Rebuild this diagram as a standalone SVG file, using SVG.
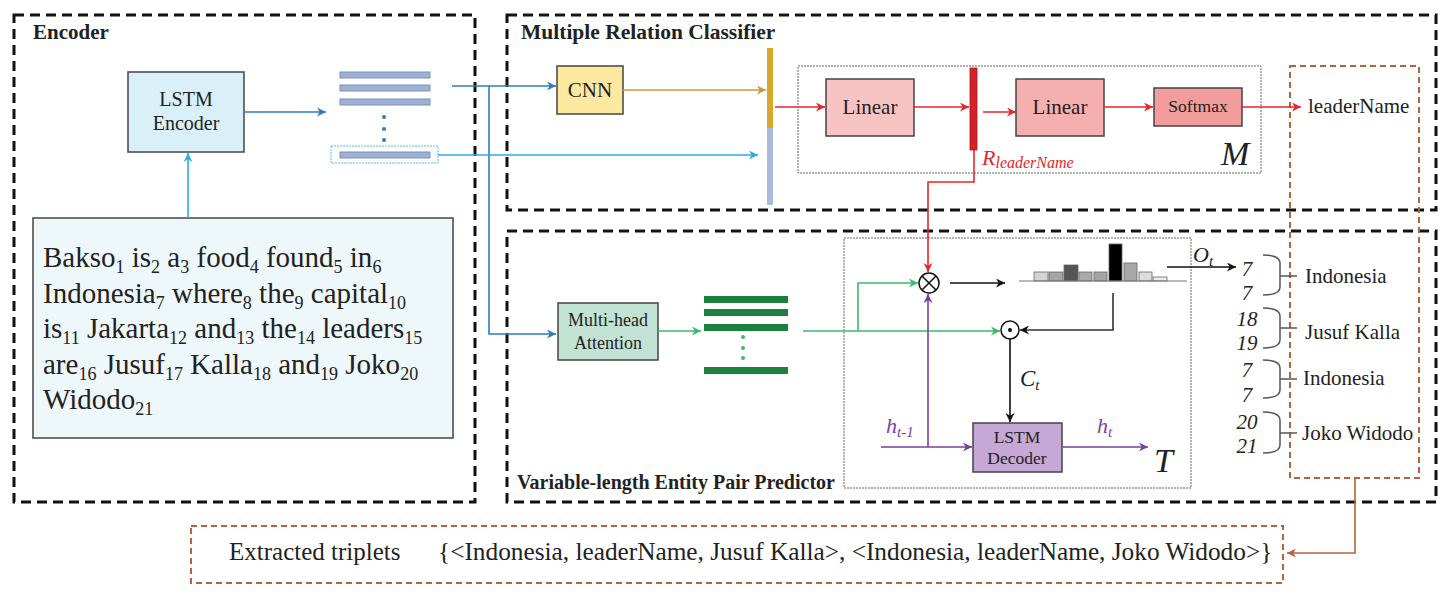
<svg xmlns="http://www.w3.org/2000/svg" width="1449" height="592" viewBox="0 0 1449 592">
<style>
text{font-family:"Liberation Serif","Times New Roman",serif;fill:#222;}
.title{font-weight:bold;font-size:20px;}
.region{fill:none;stroke:#111;stroke-width:3;stroke-dasharray:10 6;}
.inner{fill:none;stroke:#666;stroke-width:1;stroke-dasharray:2 1;}
.brown{fill:none;stroke:#b4643c;stroke-width:2;stroke-dasharray:6 4;}
.box{stroke:#444;stroke-width:1.5;}
.it{font-style:italic;}
.c{text-anchor:middle;}
.conn{fill:none;stroke-width:1.6;}
.bar{fill:#9cb0d8;stroke:#8090b0;stroke-width:1;}
.gbar{fill:#1b8040;}
.brace{fill:none;stroke:#555;stroke-width:1.5;}
.hb{stroke:#666;stroke-width:0.8;}
</style>
<defs>
<marker id="aBlue" viewBox="0 0 10 10" refX="10" refY="5" markerWidth="11" markerHeight="9" markerUnits="userSpaceOnUse" orient="auto"><path d="M0,0 L10,5 L0,10 L3,5 z" fill="#2e7cc0"/></marker>
<marker id="aLBlue" viewBox="0 0 10 10" refX="10" refY="5" markerWidth="11" markerHeight="9" markerUnits="userSpaceOnUse" orient="auto"><path d="M0,0 L10,5 L0,10 L3,5 z" fill="#2aaee6"/></marker>
<marker id="aGold" viewBox="0 0 10 10" refX="10" refY="5" markerWidth="11" markerHeight="9" markerUnits="userSpaceOnUse" orient="auto"><path d="M0,0 L10,5 L0,10 L3,5 z" fill="#c8993a"/></marker>
<marker id="aRed" viewBox="0 0 10 10" refX="10" refY="5" markerWidth="11" markerHeight="9" markerUnits="userSpaceOnUse" orient="auto"><path d="M0,0 L10,5 L0,10 L3,5 z" fill="#e8262d"/></marker>
<marker id="aGreen" viewBox="0 0 10 10" refX="10" refY="5" markerWidth="11" markerHeight="9" markerUnits="userSpaceOnUse" orient="auto"><path d="M0,0 L10,5 L0,10 L3,5 z" fill="#3cba6c"/></marker>
<marker id="aBlack" viewBox="0 0 10 10" refX="10" refY="5" markerWidth="11" markerHeight="9" markerUnits="userSpaceOnUse" orient="auto"><path d="M0,0 L10,5 L0,10 L3,5 z" fill="#111"/></marker>
<marker id="aPurple" viewBox="0 0 10 10" refX="10" refY="5" markerWidth="11" markerHeight="9" markerUnits="userSpaceOnUse" orient="auto"><path d="M0,0 L10,5 L0,10 L3,5 z" fill="#7b3fa0"/></marker>
<marker id="aBrown" viewBox="0 0 10 10" refX="10" refY="5" markerWidth="11" markerHeight="9" markerUnits="userSpaceOnUse" orient="auto"><path d="M0,0 L10,5 L0,10 L3,5 z" fill="#b4643c"/></marker>
</defs>
<rect width="1449" height="592" fill="#fff"/>

<!-- regions -->
<g id="encoder-region">
<rect class="region" x="14" y="15" width="461" height="487"/>
<text class="title" x="33" y="39" style="font-size:21px">Encoder</text>
</g>
<g id="mrc-region">
<rect class="region" x="507" y="15" width="929" height="195"/>
<text class="title" x="521" y="39" style="font-size:21.5px">Multiple Relation Classifier</text>
</g>
<g id="vlepp-region">
<rect class="region" x="507" y="231" width="929" height="271"/>
<text class="title" x="517" y="489">Variable-length Entity Pair Predictor</text>
</g>

<!-- encoder nodes -->
<g id="lstm-encoder">
<rect class="box" x="128" y="72" width="116" height="80" fill="#daf0f8"/>
<text class="c" x="186" y="106" font-size="20">LSTM</text>
<text class="c" x="186" y="130" font-size="20">Encoder</text>
</g>
<g id="input-sentence">
<rect class="box" x="33" y="218" width="420" height="220" fill="#eef7fa"/>
<text x="43" y="267" font-size="29">Bakso<tspan font-size="18" dy="6">1</tspan><tspan dy="-6"> is</tspan><tspan font-size="18" dy="6">2</tspan><tspan dy="-6"> a</tspan><tspan font-size="18" dy="6">3</tspan><tspan dy="-6"> food</tspan><tspan font-size="18" dy="6">4</tspan><tspan dy="-6"> found</tspan><tspan font-size="18" dy="6">5</tspan><tspan dy="-6"> in</tspan><tspan font-size="18" dy="6">6</tspan></text>
<text x="43" y="302.5" font-size="29">Indonesia<tspan font-size="18" dy="6">7</tspan><tspan dy="-6"> where</tspan><tspan font-size="18" dy="6">8</tspan><tspan dy="-6"> the</tspan><tspan font-size="18" dy="6">9</tspan><tspan dy="-6"> capital</tspan><tspan font-size="18" dy="6">10</tspan></text>
<text x="43" y="338" font-size="29">is<tspan font-size="18" dy="6">11</tspan><tspan dy="-6"> Jakarta</tspan><tspan font-size="18" dy="6">12</tspan><tspan dy="-6"> and</tspan><tspan font-size="18" dy="6">13</tspan><tspan dy="-6"> the</tspan><tspan font-size="18" dy="6">14</tspan><tspan dy="-6"> leaders</tspan><tspan font-size="18" dy="6">15</tspan></text>
<text x="43" y="373.5" font-size="29">are<tspan font-size="18" dy="6">16</tspan><tspan dy="-6"> Jusuf</tspan><tspan font-size="18" dy="6">17</tspan><tspan dy="-6"> Kalla</tspan><tspan font-size="18" dy="6">18</tspan><tspan dy="-6"> and</tspan><tspan font-size="18" dy="6">19</tspan><tspan dy="-6"> Joko</tspan><tspan font-size="18" dy="6">20</tspan></text>
<text x="43" y="409" font-size="29">Widodo<tspan font-size="18" dy="6">21</tspan></text>
</g>
<g id="encoder-states">
<rect class="bar" x="340" y="72" width="90" height="6"/>
<rect class="bar" x="340" y="85" width="90" height="6"/>
<rect class="bar" x="340" y="99" width="90" height="6"/>
<circle cx="384" cy="117" r="2" fill="#2e7cc0"/>
<circle cx="384" cy="129" r="2" fill="#2e7cc0"/>
<circle cx="384" cy="140" r="2" fill="#2e7cc0"/>
<rect x="331" y="146" width="107" height="17" fill="none" stroke="#4fc0ea" stroke-width="1" stroke-dasharray="2 1"/>
<rect class="bar" x="340" y="152" width="90" height="6"/>
</g>

<!-- MRC nodes -->
<g id="cnn">
<rect class="box" x="557" y="66" width="66" height="48" fill="#fde8a0"/>
<text class="c" x="590" y="97" font-size="21">CNN</text>
</g>
<g id="concat-vector">
<rect x="767" y="48" width="6" height="80" fill="#d6a92a"/>
<rect x="767" y="128" width="6" height="77" fill="#a8bcd9"/>
</g>
<g id="M-block">
<rect class="inner" x="798" y="66" width="463" height="107"/>
<text class="it" x="1221" y="165" font-size="34">M</text>
</g>
<g id="linear1">
<rect class="box" x="826" y="79" width="88" height="57" fill="#f8c3c3"/>
<text class="c" x="870" y="114" font-size="21">Linear</text>
</g>
<g id="r-leadername">
<rect x="970" y="68" width="7" height="82" fill="#d42027" stroke="#a81a20" stroke-width="0.8"/>
<text class="it" x="982" y="165" font-size="22" style="fill:#e8262d">R<tspan font-size="16" dy="3">leaderName</tspan></text>
</g>
<g id="linear2">
<rect class="box" x="1016" y="79" width="88" height="57" fill="#f5afaf"/>
<text class="c" x="1060" y="114" font-size="21">Linear</text>
</g>
<g id="softmax">
<rect class="box" x="1154" y="88" width="88" height="38" fill="#f29c9c"/>
<text class="c" x="1198" y="112" font-size="17.5">Softmax</text>
</g>
<g id="output-box">
<rect class="brown" x="1290" y="66" width="129" height="412"/>
<text x="1308" y="113" font-size="21">leaderName</text>
<text x="1305" y="283" font-size="21">Indonesia</text>
<text x="1305" y="339" font-size="21">Jusuf Kalla</text>
<text x="1303" y="385" font-size="21">Indonesia</text>
<text x="1302" y="440" font-size="21">Joko Widodo</text>
</g>

<!-- VLEPP nodes -->
<g id="multi-head-attention">
<rect class="box" x="558" y="303" width="100" height="57" fill="#c2e3d3"/>
<text class="c" x="608" y="326" font-size="18">Multi-head</text>
<text class="c" x="608" y="349" font-size="18">Attention</text>
</g>
<g id="attention-states">
<rect class="gbar" x="704" y="296" width="84" height="7"/>
<rect class="gbar" x="704" y="309" width="84" height="7"/>
<rect class="gbar" x="704" y="324" width="84" height="7"/>
<circle cx="743" cy="337" r="2" fill="#3cba6c"/>
<circle cx="743" cy="348" r="2" fill="#3cba6c"/>
<circle cx="743" cy="358" r="2" fill="#3cba6c"/>
<rect class="gbar" x="704" y="367" width="84" height="7"/>
</g>
<g id="T-block">
<rect class="inner" x="844" y="238" width="347" height="250"/>
<text class="it" x="1154" y="472" font-size="34">T</text>
</g>
<g id="otimes">
<circle cx="929" cy="283" r="10" fill="#fff" stroke="#111" stroke-width="1.5"/>
<path d="M922,276 L936,290 M936,276 L922,290" stroke="#111" stroke-width="1.5"/>
</g>
<g id="odot">
<circle cx="1010" cy="330" r="9" fill="#fff" stroke="#111" stroke-width="1.5"/>
<circle cx="1010" cy="330" r="2" fill="#111"/>
</g>
<g id="histogram">
<rect class="hb" x="1034" y="272" width="14" height="9" fill="#d4d4d4"/>
<rect class="hb" x="1049" y="272" width="14" height="9" fill="#a4a4a4"/>
<rect class="hb" x="1064" y="265" width="14" height="16" fill="#555"/>
<rect class="hb" x="1079" y="272" width="13" height="9" fill="#aaa"/>
<rect class="hb" x="1094" y="272" width="13" height="9" fill="#a4a4a4"/>
<rect class="hb" x="1109" y="244" width="13" height="37" fill="#000"/>
<rect class="hb" x="1124" y="263" width="13" height="18" fill="#a8a8a8"/>
<rect class="hb" x="1139" y="272" width="13" height="9" fill="#dcdcdc"/>
<rect class="hb" x="1153" y="277" width="14" height="4" fill="#ececec"/>
<line x1="1019" y1="281" x2="1187" y2="281" stroke="#777" stroke-width="1.2"/>
</g>
<g id="lstm-decoder">
<rect class="box" x="973" y="423" width="89" height="49" fill="#c6a7d6"/>
<text class="c" x="1017" y="443" font-size="17.5">LSTM</text>
<text class="c" x="1017" y="464" font-size="17.5">Decoder</text>
</g>
<g id="pointer-outputs">
<text class="it c" x="1247" y="276" font-size="21">7</text>
<text class="it c" x="1247" y="300" font-size="21">7</text>
<text class="it c" x="1247" y="326" font-size="21">18</text>
<text class="it c" x="1247" y="350" font-size="21">19</text>
<text class="it c" x="1247" y="377" font-size="21">7</text>
<text class="it c" x="1247" y="402" font-size="21">7</text>
<text class="it c" x="1247" y="429" font-size="21">20</text>
<text class="it c" x="1247" y="453" font-size="21">21</text>
<path class="brace" d="M1263,255 Q1280,255 1280,263 V287 Q1280,295 1263,295 M1280,276 H1297"/>
<path class="brace" d="M1263,308 Q1280,308 1280,316 V340 Q1280,348 1263,348 M1280,328 H1297"/>
<path class="brace" d="M1263,360 Q1280,360 1280,368 V390 Q1280,398 1263,398 M1280,379 H1297"/>
<path class="brace" d="M1263,412 Q1280,412 1280,420 V445 Q1280,453 1263,453 M1280,433 H1297"/>
</g>

<!-- result -->
<g id="extracted-triplets">
<rect class="brown" x="191" y="526" width="1092" height="57"/>
<text x="229" y="560" font-size="25">Extracted triplets</text>
<text x="438" y="560" font-size="25.3">{&lt;Indonesia, leaderName, Jusuf Kalla&gt;, &lt;Indonesia, leaderName, Joko Widodo&gt;}</text>
</g>

<!-- connectors -->
<g id="connectors">
<path class="conn" d="M244,112 H326" stroke="#2e7cc0" marker-end="url(#aBlue)"/>
<path class="conn" d="M188,218 V153" stroke="#2aaee6" marker-end="url(#aLBlue)"/>
<path class="conn" d="M452,86 H556" stroke="#2e7cc0" marker-end="url(#aBlue)"/>
<path class="conn" d="M489,86 V334 H556" stroke="#2e7cc0" marker-end="url(#aBlue)"/>
<path class="conn" d="M438,155 H758" stroke="#2aaee6" marker-end="url(#aLBlue)"/>
<path class="conn" d="M623,90 H766" stroke="#c8993a" marker-end="url(#aGold)"/>
<path class="conn" d="M775,107 H825" stroke="#e8262d" marker-end="url(#aRed)"/>
<path class="conn" d="M914,107 H969" stroke="#e8262d" marker-end="url(#aRed)"/>
<path class="conn" d="M983,112 H1016" stroke="#e8262d" marker-end="url(#aRed)"/>
<path class="conn" d="M1104,107 H1153" stroke="#e8262d" marker-end="url(#aRed)"/>
<path class="conn" d="M1242,107 H1301" stroke="#e8262d" marker-end="url(#aRed)"/>
<path class="conn" d="M974,150 V182 H928 V272" stroke="#e8262d" marker-end="url(#aRed)"/>
<path class="conn" d="M658,331 H701" stroke="#3cba6c" marker-end="url(#aGreen)"/>
<path class="conn" d="M803,331 H1000" stroke="#3cba6c" marker-end="url(#aGreen)"/>
<path class="conn" d="M858,331 V283 H918" stroke="#3cba6c" marker-end="url(#aGreen)"/>
<path class="conn" d="M950,283 H1005" stroke="#111" marker-end="url(#aBlack)"/>
<path class="conn" d="M1113,293 V330 H1020" stroke="#333" marker-end="url(#aBlack)"/>
<path class="conn" d="M1010,339 V422" stroke="#111" marker-end="url(#aBlack)"/>
<path class="conn" d="M881,447 H972" stroke="#7b3fa0" marker-end="url(#aPurple)"/>
<path class="conn" d="M928,447 V294" stroke="#7b3fa0" marker-end="url(#aPurple)"/>
<path class="conn" d="M1062,447 H1148" stroke="#7b3fa0" marker-end="url(#aPurple)"/>
<path class="conn" d="M1167,267 H1236" stroke="#111" marker-end="url(#aBlack)"/>
<path class="conn" d="M1355,478 V553 H1287" stroke="#b4643c" marker-end="url(#aBrown)"/>
<text class="it" x="1193" y="262" font-size="22">O<tspan font-size="15" dy="4">t</tspan></text>
<text class="it" x="1020" y="386" font-size="23">C<tspan font-size="15" dy="4">t</tspan></text>
<text class="it" x="886" y="433" font-size="22" style="fill:#7b3fa0">h<tspan font-size="15" dy="4">t-1</tspan></text>
<text class="it" x="1097" y="433" font-size="22" style="fill:#7b3fa0">h<tspan font-size="15" dy="4">t</tspan></text>
</g>
</svg>
